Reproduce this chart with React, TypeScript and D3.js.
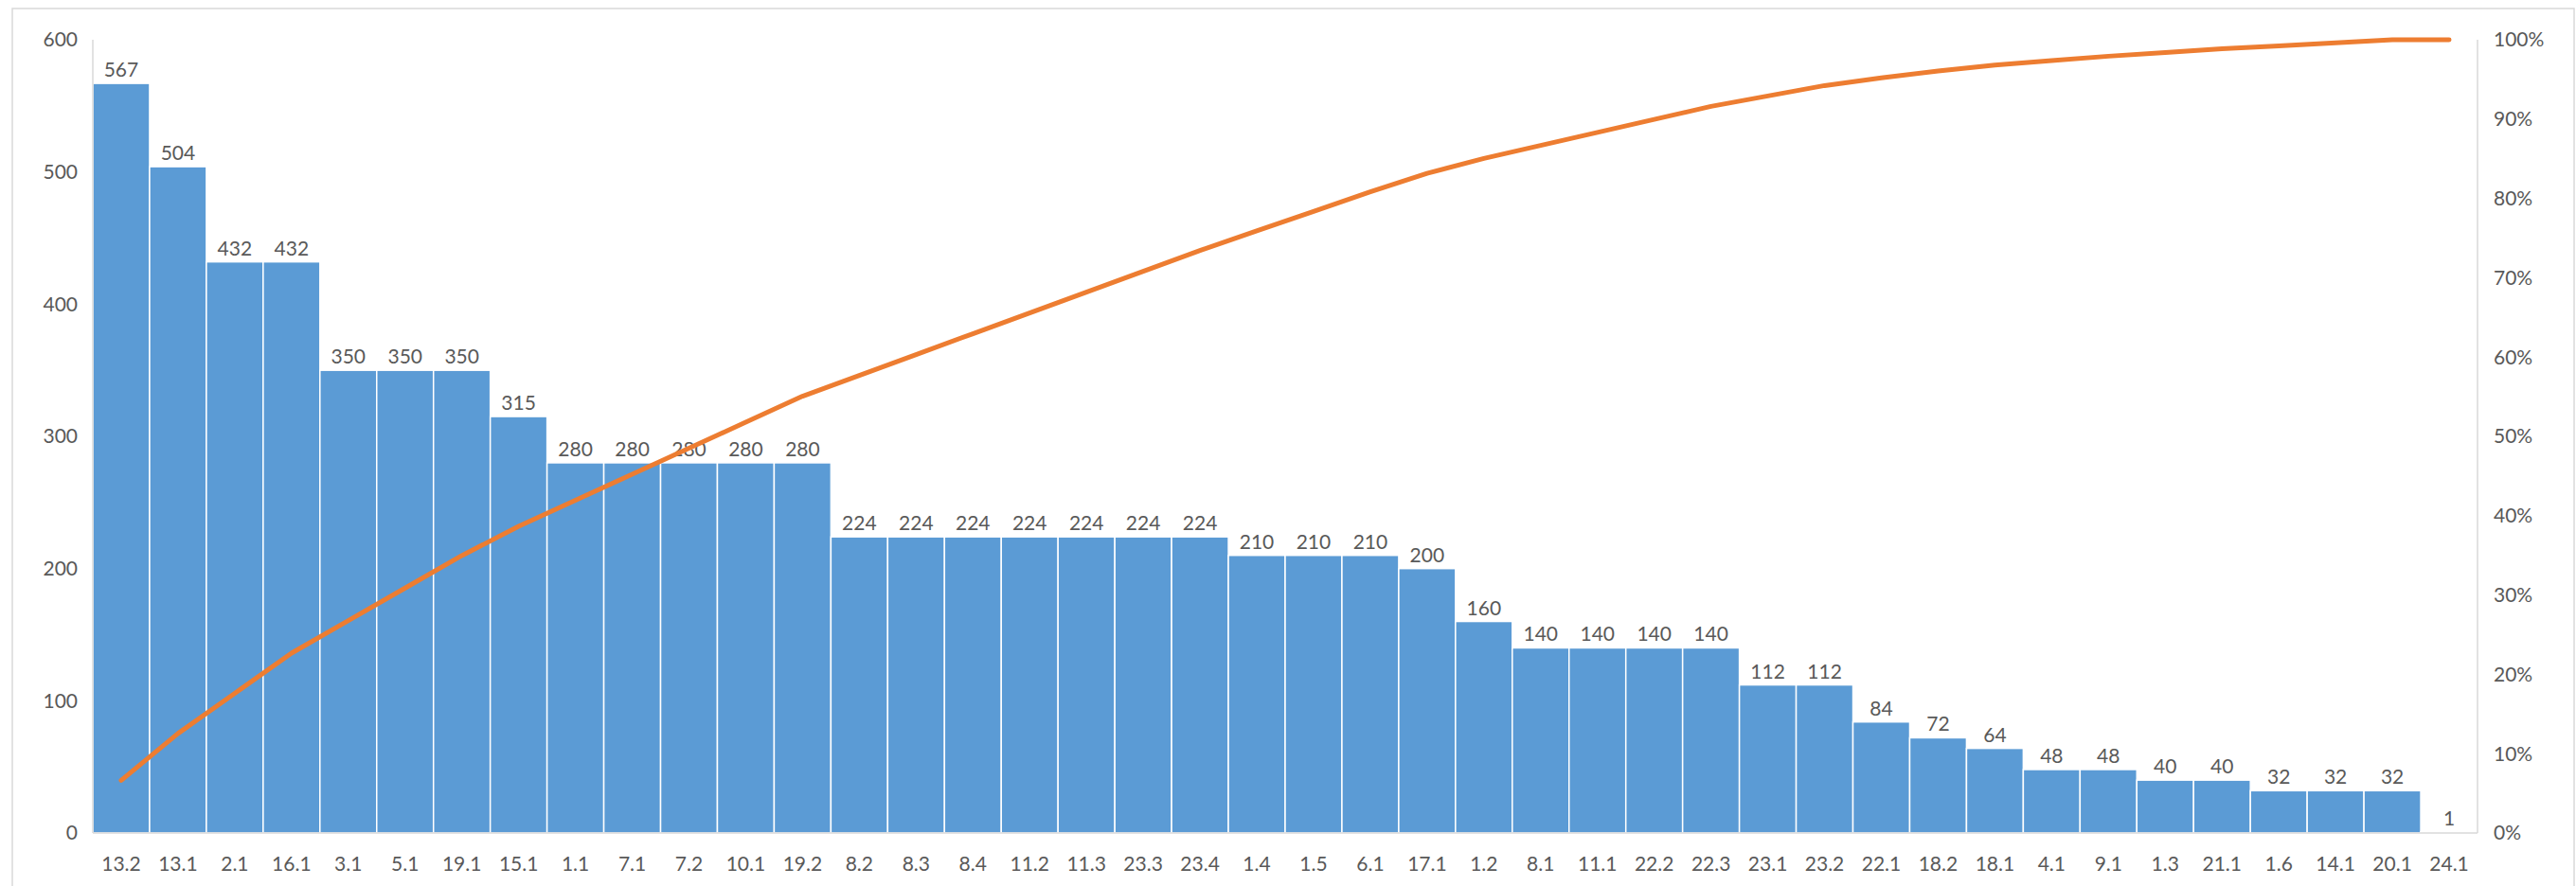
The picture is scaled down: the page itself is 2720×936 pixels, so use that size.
import React from "react";
import * as d3 from "d3";

const categories = ["13.2","13.1","2.1","16.1","3.1","5.1","19.1","15.1","1.1","7.1","7.2","10.1","19.2","8.2","8.3","8.4","11.2","11.3","23.3","23.4","1.4","1.5","6.1","17.1","1.2","8.1","11.1","22.2","22.3","23.1","23.2","22.1","18.2","18.1","4.1","9.1","1.3","21.1","1.6","14.1","20.1","24.1"];
const values = [567,504,432,432,350,350,350,315,280,280,280,280,280,224,224,224,224,224,224,224,210,210,210,200,160,140,140,140,140,112,112,84,72,64,48,48,40,40,32,32,32,1];
const leftTicks = [0,100,200,300,400,500,600];
const rightTicks = [0,0.1,0.2,0.3,0.4,0.5,0.6,0.7,0.8,0.9,1];

const W = 2720, H = 936;
const M = { left: 98, right: 2616, top: 42, bottom: 880 };
const FONT = "Lato, 'Noto Sans', sans-serif";
const TXT = "#595959";

export default function App() {
  const x = d3.scaleBand<string>().domain(categories).range([M.left, M.right]).padding(0);
  const y = d3.scaleLinear().domain([0, 600]).range([M.bottom, M.top]);
  const y2 = d3.scaleLinear().domain([0, 1]).range([M.bottom, M.top]);
  const total = d3.sum(values);
  const cum = Array.from(d3.cumsum(values)).map((v) => v / total);
  const line = d3.line<number>()
    .x((_, i) => (x(categories[i]) as number) + x.bandwidth() / 2)
    .y((d) => y2(d));
  const pct = d3.format(".0%");

  return (
    <svg width={W} height={H} style={{ position: "absolute", left: 0, top: 0, background: "#fff" }} fontFamily={FONT}>
      <rect x={13} y={9} width={2705} height={940} fill="#fff" stroke="#d9d9d9" strokeWidth={1.5} />
      {values.map((v, i) => (
        <rect key={i} x={x(categories[i])} y={y(v)} width={x.bandwidth()} height={M.bottom - y(v)}
          fill="#5B9BD5" stroke="#ffffff" strokeWidth={1.5} />
      ))}
      <line x1={M.left} x2={M.left} y1={M.top} y2={M.bottom} stroke="#d9d9d9" strokeWidth={1.5} />
      <line x1={M.right} x2={M.right} y1={M.top} y2={M.bottom} stroke="#d9d9d9" strokeWidth={1.5} />
      <line x1={M.left} x2={M.right} y1={M.bottom} y2={M.bottom} stroke="#d9d9d9" strokeWidth={1.5} />
      {values.map((v, i) => (
        <text key={"l" + i} x={(x(categories[i]) as number) + x.bandwidth() / 2} y={y(v) - 7}
          textAnchor="middle" fontSize={21} fill={TXT}>{v}</text>
      ))}
      <path d={line(cum) || ""} fill="none" stroke="#ED7D31" strokeWidth={5} strokeLinejoin="round" strokeLinecap="round" />
      {leftTicks.map((t) => (
        <text key={"y" + t} x={82} y={y(t)} dy="0.35em" textAnchor="end" fontSize={21} fill={TXT}>{t}</text>
      ))}
      {rightTicks.map((t) => (
        <text key={"r" + t} x={2633} y={y2(t)} dy="0.35em" textAnchor="start" fontSize={21} fill={TXT}>{pct(t)}</text>
      ))}
      {categories.map((c) => (
        <text key={"c" + c} x={(x(c) as number) + x.bandwidth() / 2} y={913} dy="0.35em"
          textAnchor="middle" fontSize={21} fill={TXT}>{c}</text>
      ))}
    </svg>
  );
}
